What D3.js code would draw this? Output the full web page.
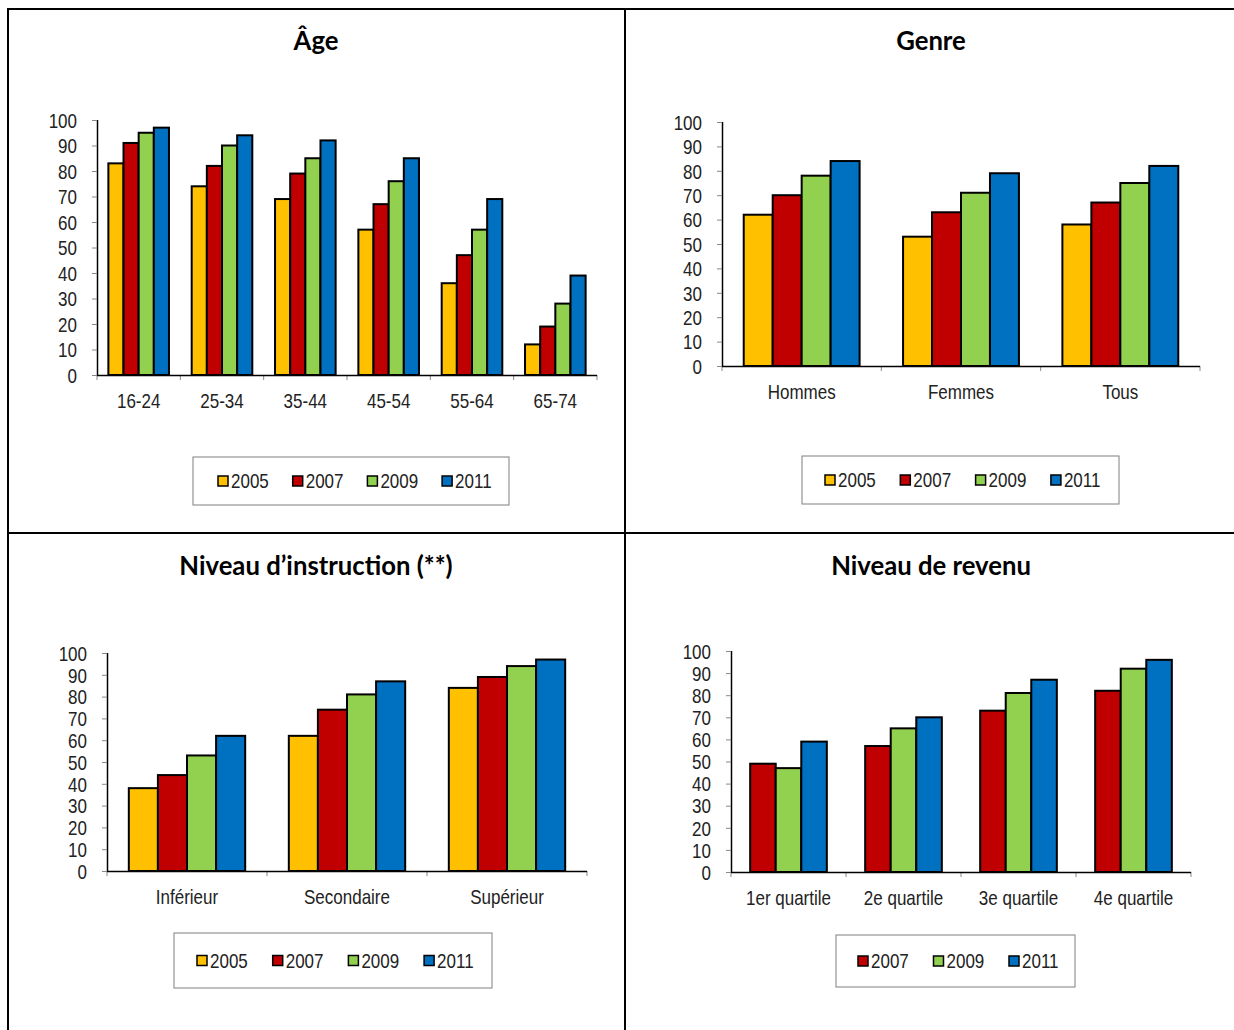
<!DOCTYPE html>
<html>
<head>
<meta charset="utf-8">
<script src="https://cdn.jsdelivr.net/npm/d3@7"></script>
<style>
  html, body { margin: 0; padding: 0; background: #fff; }
  svg { display: block; }
  .title { font-family: Lato, "Open Sans", sans-serif; font-weight: 700; font-size: 25.7px; fill: #000; }
  .lbl { font-family: "Liberation Sans", Arial, sans-serif; font-size: 20px; fill: #222; }
</style>
</head>
<body>
<svg id="chart" width="1234" height="1030"></svg>
<script>
// Years and colours shared by the four panels
const years = ["2005", "2007", "2009", "2011"];
const yearColors = ["#FFC000", "#C00000", "#92D050", "#0070C0"];
const yTicks = [0, 10, 20, 30, 40, 50, 60, 70, 80, 90, 100];

// Âge
const ageCategories = ["16-24", "25-34", "35-44", "45-54", "55-64", "65-74"];
const ageYears = ["2005", "2007", "2009", "2011"];
const ageValues = [
  [83, 91, 95, 97],
  [74, 82, 90, 94],
  [69, 79, 85, 92],
  [57, 67, 76, 85],
  [36, 47, 57, 69],
  [12, 19, 28, 39]
];

// Genre
const genreCategories = ["Hommes", "Femmes", "Tous"];
const genreYears = ["2005", "2007", "2009", "2011"];
const genreValues = [
  [62, 70, 78, 84],
  [53, 63, 71, 79],
  [58, 67, 75, 82]
];

// Niveau d'instruction
const eduCategories = ["Inférieur", "Secondaire", "Supérieur"];
const eduYears = ["2005", "2007", "2009", "2011"];
const eduValues = [
  [38, 44, 53, 62],
  [62, 74, 81, 87],
  [84, 89, 94, 97]
];

// Niveau de revenu
const incomeCategories = ["1er quartile", "2e quartile", "3e quartile", "4e quartile"];
const incomeYears = ["2007", "2009", "2011"];
const incomeValues = [
  [49, 47, 59],
  [57, 65, 70],
  [73, 81, 87],
  [82, 92, 96]
];

// narrow sans look for axis and legend text
const NARROW = 0.85;

const colorOf = d3.scaleOrdinal().domain(years).range(yearColors);
const svg = d3.select("#chart");

// Panel frame lines
const frame = svg.append("g").attr("stroke", "#000").attr("stroke-width", 2);
frame.append("line").attr("x1", 8).attr("x2", 1234).attr("y1", 9).attr("y2", 9);
frame.append("line").attr("x1", 8).attr("x2", 1234).attr("y1", 533).attr("y2", 533);
frame.append("line").attr("x1", 8).attr("x2", 8).attr("y1", 8).attr("y2", 1030);
frame.append("line").attr("x1", 625).attr("x2", 625).attr("y1", 8).attr("y2", 1030);

function narrowText(sel, x, y) {
  sel.attr("class", "lbl").attr("x", 0).attr("y", 0)
    .attr("transform", (d, i) => `translate(${x(d, i)},${y(d, i)}) scale(${NARROW},1)`);
}

function panel(cfg) {
  const g = svg.append("g");
  const { categories, series, values, plot, legend, title } = cfg;

  g.append("text").attr("class", "title")
    .attr("x", title.x).attr("y", title.y)
    .attr("text-anchor", "middle").text(title.text);

  const x = d3.scaleBand().domain(categories).range([plot.x0, plot.x1]);
  const y = d3.scaleLinear().domain([0, 100]).range([plot.yBase, plot.yTop]);

  // bar width follows a 150% gap between groups
  const n = series.length;
  const bw = x.bandwidth() / (n + 1.5);
  const inner = d3.scaleBand().domain(series)
    .range([0.75 * bw, 0.75 * bw + n * bw]);

  // y axis
  const yAxis = d3.axisLeft(y).tickValues(yTicks).tickSize(5).tickSizeOuter(0);
  const ya = g.append("g").attr("transform", `translate(${plot.x0},0)`).call(yAxis);
  ya.attr("font-family", null).attr("font-size", null);
  ya.select(".domain").attr("stroke", "#000").attr("stroke-width", 1.5)
    .attr("d", `M0.5,${plot.yTop}V${plot.yBase}`);
  ya.selectAll(".tick line").attr("stroke", "#888");
  ya.selectAll(".tick text").call(narrowText, () => -20, () => 0)
    .attr("dy", "0.36em").attr("text-anchor", "end");

  // bars
  const groups = g.selectAll(".grp").data(values).join("g")
    .attr("transform", (d, i) => `translate(${x(categories[i])},0)`);
  groups.selectAll("rect").data(d => d.map((v, j) => ({ v, s: series[j] }))).join("rect")
    .attr("x", d => inner(d.s))
    .attr("width", inner.bandwidth())
    .attr("y", d => y(d.v))
    .attr("height", d => y(0) - y(d.v))
    .attr("fill", d => colorOf(d.s))
    .attr("stroke", "#000").attr("stroke-width", 2);

  // x axis with ticks at category boundaries
  const xa = g.append("g");
  const bounds = categories.map(c => x(c)).concat([plot.x1]);
  xa.selectAll("line.b").data(bounds).join("line").attr("class", "b")
    .attr("x1", d => d).attr("x2", d => d)
    .attr("y1", plot.yBase).attr("y2", plot.yBase + 5)
    .attr("stroke", "#888");
  xa.append("line").attr("x1", plot.x0).attr("x2", plot.x1)
    .attr("y1", plot.yBase + 0.5).attr("y2", plot.yBase + 0.5)
    .attr("stroke", "#000").attr("stroke-width", 1.5);
  xa.selectAll("text").data(categories).join("text")
    .call(narrowText, d => x(d) + x.bandwidth() / 2, () => plot.yBase + 33)
    .attr("text-anchor", "middle").text(d => d);

  // legend
  const lg = g.append("g");
  lg.append("rect").attr("x", legend.x).attr("y", legend.y)
    .attr("width", legend.w).attr("height", legend.h)
    .attr("fill", "#fff").attr("stroke", "#7f7f7f").attr("stroke-width", 1);
  const cy = legend.y + legend.h / 2;
  const items = lg.selectAll(".it").data(series).join("g")
    .attr("transform", (d, i) => `translate(${legend.first + i * legend.step},${cy})`);
  items.append("rect").attr("x", 0).attr("y", -5).attr("width", 10).attr("height", 10)
    .attr("fill", d => colorOf(d)).attr("stroke", "#000").attr("stroke-width", 1.5);
  items.append("text").call(narrowText, () => 13, () => 0)
    .attr("dy", "0.36em").text(d => d);
}

panel({
  title: { text: "Âge", x: 316, y: 50 },
  categories: ageCategories, series: ageYears, values: ageValues,
  plot: { x0: 97, x1: 597, yTop: 120, yBase: 375 },
  legend: { x: 193, y: 457, w: 316, h: 48, first: 218, step: 74.7 }
});
panel({
  title: { text: "Genre", x: 931, y: 50 },
  categories: genreCategories, series: genreYears, values: genreValues,
  plot: { x0: 722, x1: 1200, yTop: 122, yBase: 366 },
  legend: { x: 802, y: 456, w: 317, h: 48, first: 825, step: 75.3 }
});
panel({
  title: { text: "Niveau d’instruction (**)", x: 316, y: 575 },
  categories: eduCategories, series: eduYears, values: eduValues,
  plot: { x0: 107, x1: 587, yTop: 653, yBase: 871 },
  legend: { x: 174, y: 933, w: 318, h: 55, first: 197, step: 75.7 }
});
panel({
  title: { text: "Niveau de revenu", x: 931, y: 575 },
  categories: incomeCategories, series: incomeYears, values: incomeValues,
  plot: { x0: 731, x1: 1191, yTop: 651, yBase: 872 },
  legend: { x: 836, y: 935, w: 239, h: 52, first: 858, step: 75.5 }
});
</script>
</body>
</html>
